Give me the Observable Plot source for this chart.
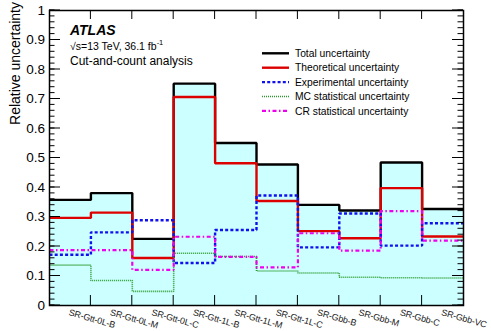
<!DOCTYPE html>
<html>
<head>
<meta charset="utf-8">
<script src="https://cdn.jsdelivr.net/npm/d3@7"></script>
<script src="https://cdn.jsdelivr.net/npm/@observablehq/plot@0.6"></script>
<style>
  body { margin: 0; background: #fff; }
  svg { font-family: "Liberation Sans", Arial, sans-serif; }
</style>
</head>
<body>
<div id="chart"></div>
<script>
// Signal regions (one bin each) and the relative uncertainties per region
const regions = ["SR-Gtt-0L-B", "SR-Gtt-0L-M", "SR-Gtt-0L-C", "SR-Gtt-1L-B", "SR-Gtt-1L-M",
                 "SR-Gtt-1L-C", "SR-Gbb-B", "SR-Gbb-M", "SR-Gbb-C", "SR-Gbb-VC"];
const totalUnc  = [0.358, 0.381, 0.226, 0.752, 0.551, 0.478, 0.341, 0.322, 0.485, 0.327];
const theoUnc   = [0.297, 0.315, 0.161, 0.707, 0.482, 0.354, 0.252, 0.228, 0.398, 0.234];
const expUnc    = [0.172, 0.248, 0.289, 0.144, 0.256, 0.373, 0.197, 0.312, 0.203, 0.279];
const mcStatUnc = [0.137, 0.085, 0.048, 0.177, 0.166, 0.117, 0.110, 0.096, 0.094, 0.093];
const crStatUnc = [0.188, 0.188, 0.121, 0.233, 0.165, 0.129, 0.245, 0.186, 0.320, 0.220];

const yTicks = [0, 0.1, 0.2, 0.3, 0.4, 0.5, 0.6, 0.7, 0.8, 0.9, 1];
const yTickLabels = ["0", "0.1", "0.2", "0.3", "0.4", "0.5", "0.6", "0.7", "0.8", "0.9", "1"];

const legendEntries = [
  {label: "Total uncertainty", stroke: "#000000", width: 2.4, dash: null},
  {label: "Theoretical uncertainty", stroke: "#dd0000", width: 2.4, dash: null},
  {label: "Experimental uncertainty", stroke: "#1010ee", width: 2.4, dash: "3,2.2"},
  {label: "MC statistical uncertainty", stroke: "#2a9a2a", width: 1.6, dash: "1,1"},
  {label: "CR statistical uncertainty", stroke: "#ee00ee", width: 2.2, dash: "4,2.5,1.5,2.5"}
];

const n = regions.length;
// histogram outline: one point per bin edge, last value repeated to close the final bin
const steps = (vals) => vals.map((v, i) => ({x: i, y: v})).concat([{x: n, y: vals[n - 1]}]);
const binEdges = d3.range(1, n);
const binCenters = d3.range(n).map(i => i + 0.5);
const minorTicks = d3.range(0, 51).map(i => i / 50);

const lineOpts = (e) => ({x: "x", y: "y", curve: "step-after", stroke: e.stroke,
  strokeWidth: e.width, strokeDasharray: e.dash, strokeLinecap: "butt", strokeLinejoin: "miter"});

const chart = Plot.plot({
  width: 491,
  height: 331,
  marginLeft: 49,
  marginRight: 28,
  marginTop: 10,
  marginBottom: 26,
  style: {fontFamily: "Liberation Sans, Arial, sans-serif", background: "#fff"},
  x: {domain: [0, n], axis: null},
  y: {domain: [0, 1], axis: null},
  marks: [
    Plot.areaY(steps(totalUnc), {x: "x", y: "y", curve: "step-after", fill: "#ccffff"}),
    Plot.line(steps(totalUnc), lineOpts(legendEntries[0])),
    Plot.line(steps(theoUnc), lineOpts(legendEntries[1])),
    Plot.line(steps(expUnc), lineOpts(legendEntries[2])),
    Plot.line(steps(mcStatUnc), lineOpts(legendEntries[3])),
    Plot.line(steps(crStatUnc), lineOpts(legendEntries[4])),
    Plot.frame({stroke: "#000", strokeWidth: 1.5})
  ]
});

document.getElementById("chart").appendChild(chart);

// axes: ticks point inward on all four sides, built from the plot's own scales
const xs = chart.scale("x"), ys = chart.scale("y");
const X = d3.scaleLinear().domain(xs.domain).range(xs.range);
const Y = d3.scaleLinear().domain(ys.domain).range(ys.range);
const [x0, x1] = X.range();
const [yBottom, yTop] = Y.range();

const svg = d3.select(chart);
const ax = svg.append("g").attr("stroke", "#000").attr("stroke-width", 1).attr("fill", "none");

const tick = (xa, ya, xb, yb) => ax.append("line")
  .attr("x1", xa).attr("y1", ya).attr("x2", xb).attr("y2", yb);

minorTicks.forEach(v => {
  const y = Y(v);
  tick(x0, y, x0 + 5.5, y);
  tick(x1, y, x1 - 5.5, y);
});
yTicks.forEach(v => {
  const y = Y(v);
  tick(x0, y, x0 + 11, y);
  tick(x1, y, x1 - 11, y);
});
binEdges.forEach(v => {
  const x = X(v);
  tick(x, yBottom, x, yBottom - 10);
  tick(x, yTop, x, yTop + 9);
});

// y tick labels
const yl = svg.append("g").attr("font-size", 13.5).attr("fill", "#000").attr("text-anchor", "end");
yTicks.forEach((v, i) => {
  yl.append("text").attr("x", x0 - 4).attr("y", Y(v)).attr("dy", "0.35em").text(yTickLabels[i]);
});

// bin labels, tilted, starting at each bin centre
const xl = svg.append("g").attr("font-size", 9).attr("letter-spacing", -0.15)
  .attr("fill", "#222").attr("text-anchor", "start");
binCenters.forEach((v, i) => {
  xl.append("text")
    .attr("transform", `translate(${X(v) - 1.5},${yBottom + 10}) rotate(16)`)
    .text(regions[i]);
});

// y-axis title
svg.append("text")
  .attr("transform", "translate(20,2) rotate(-90)")
  .attr("text-anchor", "end")
  .attr("font-size", 14)
  .attr("fill", "#000")
  .text("Relative uncertainty");

// experiment label block
const hdr = svg.append("g").attr("fill", "#000").attr("text-anchor", "start");
hdr.append("text").attr("x", 70).attr("y", 35)
  .attr("font-size", 14).attr("font-weight", "bold").attr("font-style", "italic")
  .text("ATLAS");
const lumi = hdr.append("text").attr("x", 70).attr("y", 49.5).attr("font-size", 10.5);
lumi.append("tspan").text("\u221As=13 TeV, 36.1 fb");
lumi.append("tspan").attr("font-size", 7.5).attr("dy", -4.5).text("-1");
hdr.append("text").attr("x", 70).attr("y", 64.5).attr("font-size", 12)
  .text("Cut-and-count analysis");

// legend
const leg = svg.append("g").attr("text-anchor", "start");
legendEntries.forEach((e, i) => {
  const y = 53.3 + i * 14.4;
  leg.append("line").attr("x1", 262).attr("x2", 289).attr("y1", y).attr("y2", y)
    .attr("stroke", e.stroke).attr("stroke-width", e.width)
    .attr("stroke-dasharray", e.dash);
  leg.append("text").attr("x", 295).attr("y", y).attr("dy", "0.35em")
    .attr("font-size", 10.3).attr("fill", "#000").text(e.label);
});
</script>
</body>
</html>
